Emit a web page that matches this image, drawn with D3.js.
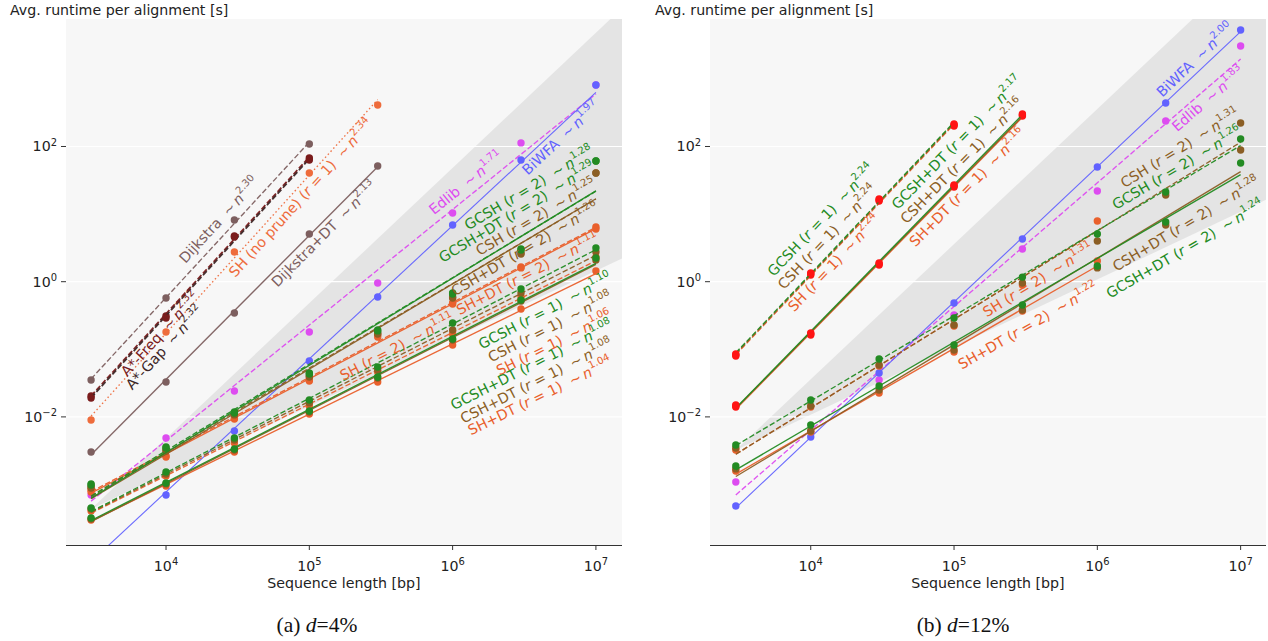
<!DOCTYPE html>
<html><head><meta charset="utf-8">
<script src="https://cdn.jsdelivr.net/npm/d3@7"></script>
<style>
body{margin:0;background:#fff}
</style>
</head><body>
<svg id="c" width="1268" height="641" font-family="DejaVu Sans, sans-serif"></svg>
<script>
// ---------- data ----------
const N = [3e3, 1e4, 3e4, 1e5, 3e5, 1e6, 3e6, 1e7];
const xTicks = [1e4, 1e5, 1e6, 1e7];
const xTickExp = ["4", "5", "6", "7"];
const yTicks = [1e-2, 1, 1e2];
const yTickExp = ["\u22122", "0", "2"];

// panel (a) d=4%  (runtime in seconds, one value per N, from smallest n)
const a_dijkstra   = [0.0351, 0.574, 8.18, 109];
const a_astarFreq  = [0.0204, 0.311, 4.74, 67.6];
const a_astarGap   = [0.0190, 0.290, 4.58, 63.0];
const a_shNoPrune  = [0.0090, 0.180, 2.75, 40.6, 411];
const a_dijkstraDT = [0.00303, 0.0328, 0.344, 5.08, 51.5];
const a_edlib      = [6.99e-4, 4.87e-3, 0.0242, 0.180, 0.957, 10.4, 113, 812];
const a_biwfa      = [7.1e-5, 6.99e-4, 6.18e-3, 0.0671, 0.594, 6.90, 63.1, 812];
const a_gcsh2      = [1.02e-3, 3.59e-3, 0.0118, 0.0446, 0.193, 0.681, 3.05, 61.0];
const a_gcshdt2    = [9.83e-4, 3.47e-3, 0.0114, 0.0431, 0.187, 0.658, 2.94, 61.0];
const a_csh2       = [9.18e-4, 3.24e-3, 0.0110, 0.0403, 0.174, 0.594, 2.66, 40.6];
const a_cshdt2     = [8.87e-4, 3.13e-3, 0.0107, 0.0389, 0.168, 0.574, 2.57, 40.6];
const a_sh2        = [8.29e-4, 2.64e-3, 9.63e-3, 0.0351, 0.163, 0.484, 1.65, 6.45];
const a_shdt2      = [7.75e-4, 2.55e-3, 9.31e-3, 0.0340, 0.152, 0.468, 1.60, 6.02];
const a_gcsh1      = [4.49e-4, 1.53e-3, 4.87e-3, 0.0178, 0.0547, 0.245, 0.780, 3.15];
const a_csh1       = [4.34e-4, 1.43e-3, 4.55e-3, 0.0161, 0.0494, 0.193, 0.681, 2.75];
const a_sh1        = [4.06e-4, 1.34e-3, 4.11e-3, 0.0145, 0.0461, 0.168, 0.594, 2.32];
const a_gcshdt1    = [3.19e-4, 1.05e-3, 3.35e-3, 0.0122, 0.0389, 0.142, 0.536, 2.24];
const a_cshdt1     = [3.09e-4, 1.02e-3, 3.24e-3, 0.0118, 0.0376, 0.137, 0.518, 2.09];
const a_shdt1      = [2.99e-4, 9.50e-4, 3.03e-3, 0.0110, 0.0328, 0.116, 0.395, 1.44];

// panel (b) d=12%
const b_biwfa   = [4.81e-4, 5.04e-3, 0.0446, 0.484, 4.28, 49.7, 440, 5290];
const b_edlib   = [1.09e-3, 5.98e-3, 0.0351, 0.322, 3.05, 22.0, 238, 3070];
const b_gcsh1   = [0.0852, 1.345, 16.7, 215];
const b_csh1    = [0.0823, 1.30, 16.2, 208];
const b_sh1     = [0.0796, 1.256, 15.6, 201];
const b_gcshdt1 = [0.0150, 0.174, 1.89, 27.0, 303];
const b_cshdt1  = [0.0145, 0.168, 1.83, 26.1, 292];
const b_shdt1   = [0.0140, 0.163, 1.77, 25.2, 283];
const b_gcsh2   = [3.84e-3, 0.0178, 0.0719, 0.290, 1.17, 5.08, 21.2, 129];
const b_csh2    = [3.47e-3, 0.0145, 0.0586, 0.229, 0.957, 4.00, 19.2, 223];
const b_sh2     = [3.24e-3, 0.0140, 0.0566, 0.221, 0.894, 7.91];
const b_gcshdt2 = [1.88e-3, 7.59e-3, 0.0287, 0.116, 0.452, 1.71, 7.64, 57.0];
const b_cshdt2  = [1.70e-3, 6.18e-3, 0.0250, 0.0976, 0.382, 1.60, 6.90, 88.8];
const b_shdt2   = [1.58e-3, 5.98e-3, 0.0226, 0.0912, 0.369, 2.02];

// scaling-exponent labels (text shown on the chart)
const a_exp = ["2.30","2.32","2.32","2.34","2.13","1.71","1.97","1.28","1.29","1.25","1.26","1.11","1.11","1.10","1.08","1.06","1.08","1.08","1.04"];
const b_exp = ["2.00","1.83","2.24","2.24","2.24","2.17","2.16","2.16","1.26","1.31","1.31","1.24","1.28","1.22"];

// shaded band: apex runtime at n=3000 (between ~n and ~n^2)
const wedgeApex = [4.34e-4, 3.24e-3];

// ---------- styles ----------
const C = {green:"#238b23", brown:"#8b5e24", orange:"#e9602c", dij:"#7d5f5f", freq:"#7a1c1c",
           gap:"#3d2626", noprune:"#ee6c3c", edlib:"#dd4cf0", biwfa:"#6262ff", red:"#ff1414"};
const DASH = {solid:null, dash:"5.5,2.4", dot:"1.5,2.6"};

// series tables: [values, name, r, color, dash, markerColor, label position (log10 n, log10 t)]
const seriesA = [
 [a_dijkstra,"Dijkstra",null,C.dij,"dash",null,[4.370,0.913]],
 [a_astarFreq,"A*-Freq",null,C.freq,"dash",null,[3.958,-0.774]],
 [a_astarGap,"A*-Gap",null,C.gap,"dash",C.freq,[3.990,-0.975]],
 [a_shNoPrune,"SH (no prune)","1",C.noprune,"dot",null,[4.942,1.238]],
 [a_dijkstraDT,"Dijkstra+DT",null,C.dij,"solid",null,[5.103,0.706]],
 [a_edlib,"Edlib",null,C.edlib,"dash",null,[6.094,1.460]],
 [a_biwfa,"BiWFA",null,C.biwfa,"solid",null,[6.756,2.126]],
 [a_gcsh2,"GCSH","2",C.green,"dash",null,[6.533,1.386]],
 [a_gcshdt2,"GCSH+DT","2",C.green,"solid",null,[6.449,1.031]],
 [a_csh2,"CSH","2",C.brown,"dash",null,[6.582,0.957]],
 [a_cshdt2,"CSH+DT","2",C.brown,"solid",null,[6.505,0.484]],
 [a_sh2,"SH","2",C.orange,"dash",null,[5.612,-0.966]],
 [a_shdt2,"SH+DT","2",C.orange,"solid",null,[6.523,0.114]],
 [a_gcsh1,"GCSH","1",C.green,"dash",null,[6.645,-0.433]],
 [a_csh1,"CSH","1",C.brown,"dash",null,[6.680,-0.670]],
 [a_sh1,"SH","1",C.orange,"dash",null,[6.708,-0.907]],
 [a_gcshdt1,"GCSH+DT","1",C.green,"solid",null,[6.551,-1.232]],
 [a_cshdt1,"CSH+DT","1",C.brown,"solid",null,[6.585,-1.469]],
 [a_shdt1,"SH+DT","1",C.orange,"solid",null,[6.610,-1.691]]
];
const seriesB = [
 [b_biwfa,"BiWFA",null,C.biwfa,"solid",null,[6.682,3.280]],
 [b_edlib,"Edlib",null,C.edlib,"dash",null,[6.773,2.703]],
 [b_gcsh1,"GCSH","1",C.green,"dash",C.red,[4.072,0.913]],
 [b_csh1,"CSH","1",C.brown,"dash",C.red,[4.117,0.661]],
 [b_sh1,"SH","1",C.orange,"dash",C.red,[4.163,0.277]],
 [b_gcshdt1,"GCSH+DT","1",C.green,"solid",C.red,[5.021,2.059]],
 [b_cshdt1,"CSH+DT","1",C.brown,"solid",C.red,[5.056,1.786]],
 [b_shdt1,"SH+DT","1",C.orange,"solid",C.red,[5.094,1.393]],
 [b_gcsh2,"GCSH","2",C.green,"dash",null,[6.556,1.682]],
 [b_csh2,"CSH","2",C.brown,"dash",null,[6.577,1.978]],
 [b_sh2,"SH","2",C.orange,"dash",null,[5.586,0.025]],
 [b_gcshdt2,"GCSH+DT","2",C.green,"solid",null,[6.612,0.484]],
 [b_cshdt2,"CSH+DT","2",C.brown,"solid",null,[6.619,0.854]],
 [b_shdt2,"SH+DT","2",C.orange,"solid",null,[5.516,-0.655]]
];
// drawing order (indices): orange first, then brown, green on top
const orderA = [0,1,2,3,4,5,6,15,18,14,17,13,16,11,12,9,10,7,8];
const orderB = [1,0,10,13,9,12,8,11,4,7,3,6,2,5];

// ---------- layout ----------
const svg = d3.select("#c");
const TOP = 19, BOT = 545, FS = 14.2, LFS = 14.3;
const panels = [
 {id:"a", x0:66, x1:622, xdom:[10**3.302, 10**7.182], series:seriesA, exps:a_exp, order:orderA, apex:wedgeApex[0], titleX:10, capX:317, cap:["(a) ","d","=4%"]},
 {id:"b", x0:710, x1:1266, xdom:[10**3.297, 10**7.177], series:seriesB, exps:b_exp, order:orderB, apex:wedgeApex[1], titleX:655, capX:963, cap:["(b) ","d","=12%"]}
];

function supText(sel, base, exp, fs){
  sel.append("tspan").text(base);
  sel.append("tspan").attr("font-size", fs*0.7).attr("dy", -fs*0.42).text(exp);
}

panels.forEach(p => {
  const x = d3.scaleLog().domain(p.xdom).range([p.x0, p.x1]);
  const y = d3.scaleLog().domain([10**-3.895, 10**3.886]).range([BOT, TOP]);
  const g = svg.append("g");
  const clipId = "clip-" + p.id;
  svg.append("defs").append("clipPath").attr("id", clipId)
     .append("rect").attr("x", p.x0).attr("y", TOP).attr("width", p.x1 - p.x0).attr("height", BOT - TOP);

  g.append("rect").attr("x", p.x0).attr("y", TOP).attr("width", p.x1 - p.x0).attr("height", BOT - TOP).attr("fill", "#f7f7f7");
  const plot = g.append("g").attr("clip-path", `url(#${clipId})`);

  // shaded band between ~n and ~n^2 from apex
  const n0 = N[0], nEnd = 1e8;
  const wedge = [[n0, p.apex], [nEnd, p.apex * (nEnd/n0)**2], [nEnd, p.apex * (nEnd/n0)]];
  plot.append("path").attr("d", d3.line().x(d => x(d[0])).y(d => y(d[1]))(wedge) + "Z").attr("fill", "#e4e4e4");

  // grid
  yTicks.forEach(t => plot.append("line").attr("x1", p.x0).attr("x2", p.x1).attr("y1", y(t)).attr("y2", y(t))
     .attr("stroke", "#fff").attr("stroke-width", 1.2));

  // series
  const pxPerDecX = x(1e5) - x(1e4), pxPerDecY = y(1) - y(10);
  p.order.forEach(i => {
    const s = p.series[i];
    const vals = s[0], col = s[3], k = parseFloat(p.exps[i]);
    const pts = vals.map((v, j) => [N[j], v]);
    const b = d3.mean(pts, d => Math.log10(d[1]) - k * Math.log10(d[0]));
    const fit = [pts[0][0], pts[pts.length-1][0]].map(n => [n, 10 ** (b + k * Math.log10(n))]);
    const thick = (s[1].startsWith("A*")) ? 1.8 : (s[1] === "BiWFA" ? 1.1 : 1.35);
    plot.append("path").attr("d", d3.line().x(d => x(d[0])).y(d => y(d[1]))(fit))
      .attr("fill", "none").attr("stroke", col).attr("stroke-width", thick)
      .attr("stroke-dasharray", DASH[s[4]]).attr("opacity", 0.95);
    plot.selectAll(null).data(pts).join("circle")
      .attr("cx", d => x(d[0])).attr("cy", d => y(d[1])).attr("r", 3.7)
      .attr("fill", s[5] || col);
  });

  // labels
  p.series.forEach((s, i) => {
    const k = parseFloat(p.exps[i]);
    const ang = Math.atan(k * pxPerDecY / pxPerDecX) * 180 / Math.PI;
    const px = x(10 ** s[6][0]), py = y(10 ** s[6][1]);
    const t = g.append("text").attr("transform", `translate(${px},${py}) rotate(${-ang})`)
      .attr("text-anchor", "middle").attr("dominant-baseline", "central")
      .attr("fill", s[3]).attr("font-size", LFS).style("white-space", "pre");
    t.append("tspan").text(s[1] + (s[2] ? " (" : ""));
    if (s[2]) {
      t.append("tspan").attr("font-style", "italic").text("r");
      t.append("tspan").text(" = " + s[2] + ")");
    }
    t.append("tspan").text("  \u223C\u2009");
    t.append("tspan").attr("font-style", "italic").text("n");
    t.append("tspan").attr("font-size", LFS * 0.7).attr("dy", -LFS * 0.42).text(p.exps[i]);
  });

  // axes
  g.append("line").attr("x1", p.x0).attr("x2", p.x1).attr("y1", BOT + 0.5).attr("y2", BOT + 0.5).attr("stroke", "#333").attr("stroke-width", 1);
  xTicks.forEach((t, i) => {
    g.append("line").attr("x1", x(t)).attr("x2", x(t)).attr("y1", BOT).attr("y2", BOT + 5).attr("stroke", "#333");
    const tx = g.append("text").attr("x", x(t)).attr("y", 571).attr("text-anchor", "middle").attr("font-size", FS).attr("fill", "#222");
    supText(tx, "10", xTickExp[i], FS);
  });
  yTicks.forEach((t, i) => {
    g.append("line").attr("x1", p.x0 - 5).attr("x2", p.x0).attr("y1", y(t)).attr("y2", y(t)).attr("stroke", "#333");
    const ty = g.append("text").attr("x", p.x0 - 9).attr("y", y(t) + 5).attr("text-anchor", "end").attr("font-size", FS).attr("fill", "#222");
    supText(ty, "10", yTickExp[i], FS);
  });
  g.append("text").attr("x", (p.x0 + p.x1) / 2).attr("y", 588).attr("text-anchor", "middle").attr("font-size", FS).attr("fill", "#222").text("Sequence length [bp]");
  g.append("text").attr("x", p.titleX).attr("y", 15).attr("font-size", FS).attr("fill", "#222").text("Avg. runtime per alignment [s]");
  const cap = g.append("text").attr("x", p.capX).attr("y", 632).attr("text-anchor", "middle")
     .style("font-family", "'Liberation Serif','DejaVu Serif',serif").attr("font-size", 21.5).attr("fill", "#111");
  cap.append("tspan").text(p.cap[0]);
  cap.append("tspan").attr("font-style", "italic").text(p.cap[1]);
  cap.append("tspan").text(p.cap[2]);
});
</script>
</body></html>
